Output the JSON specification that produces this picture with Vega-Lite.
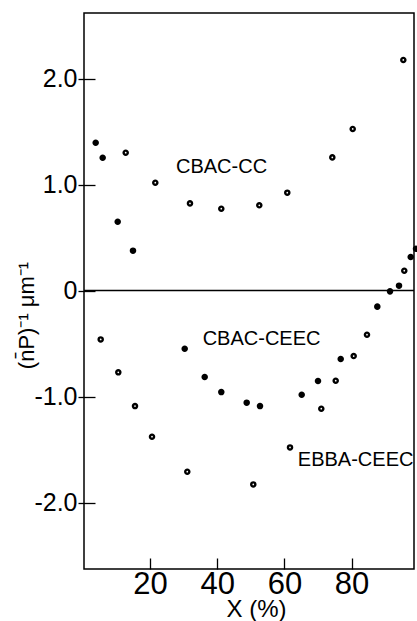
{
  "$schema": "https://vega.github.io/schema/vega-lite/v6.json",
  "width": 330,
  "height": 556,
  "autosize": "none",
  "padding": {"left": 84, "top": 13, "right": 3, "bottom": 52},
  "background": "white",
  "config": {
    "view": {"stroke": "black", "strokeWidth": 1.5},
    "font": "Liberation Sans",
    "axis": {"grid": false, "domain": false, "tickColor": "black", "tickWidth": 1.3, "labelColor": "black", "titleColor": "black", "titleFontWeight": "normal", "labelFont": "Liberation Sans", "titleFont": "Liberation Sans"}
  },
  "datasets": {
    "points": [
      {"x": 3.84, "y": 1.394, "series": "CBAC-CEEC"},
      {"x": 5.92, "y": 1.253, "series": "CBAC-CEEC"},
      {"x": 10.39, "y": 0.649, "series": "CBAC-CEEC"},
      {"x": 14.94, "y": 0.376, "series": "CBAC-CEEC"},
      {"x": 30.33, "y": -0.549, "series": "CBAC-CEEC"},
      {"x": 36.28, "y": -0.816, "series": "CBAC-CEEC"},
      {"x": 41.22, "y": -0.958, "series": "CBAC-CEEC"},
      {"x": 48.78, "y": -1.058, "series": "CBAC-CEEC"},
      {"x": 52.74, "y": -1.09, "series": "CBAC-CEEC"},
      {"x": 65.15, "y": -0.983, "series": "CBAC-CEEC"},
      {"x": 70.0, "y": -0.854, "series": "CBAC-CEEC"},
      {"x": 76.76, "y": -0.646, "series": "CBAC-CEEC"},
      {"x": 87.65, "y": -0.152, "series": "CBAC-CEEC"},
      {"x": 91.43, "y": -0.008, "series": "CBAC-CEEC"},
      {"x": 94.11, "y": 0.046, "series": "CBAC-CEEC"},
      {"x": 97.59, "y": 0.316, "series": "CBAC-CEEC"},
      {"x": 99.17, "y": 0.394, "series": "CBAC-CEEC"},
      {"x": 12.77, "y": 1.3, "series": "CBAC-CC"},
      {"x": 21.58, "y": 1.017, "series": "CBAC-CC"},
      {"x": 31.9, "y": 0.822, "series": "CBAC-CC"},
      {"x": 41.22, "y": 0.772, "series": "CBAC-CC"},
      {"x": 52.53, "y": 0.804, "series": "CBAC-CC"},
      {"x": 60.86, "y": 0.923, "series": "CBAC-CC"},
      {"x": 74.26, "y": 1.256, "series": "CBAC-CC"},
      {"x": 80.33, "y": 1.524, "series": "CBAC-CC"},
      {"x": 95.39, "y": 2.175, "series": "CBAC-CC"},
      {"x": 5.33, "y": -0.461, "series": "EBBA-CEEC"},
      {"x": 10.57, "y": -0.772, "series": "EBBA-CEEC"},
      {"x": 15.54, "y": -1.09, "series": "EBBA-CEEC"},
      {"x": 20.6, "y": -1.379, "series": "EBBA-CEEC"},
      {"x": 31.1, "y": -1.709, "series": "EBBA-CEEC"},
      {"x": 50.74, "y": -1.829, "series": "EBBA-CEEC"},
      {"x": 61.67, "y": -1.48, "series": "EBBA-CEEC"},
      {"x": 70.98, "y": -1.115, "series": "EBBA-CEEC"},
      {"x": 75.27, "y": -0.851, "series": "EBBA-CEEC"},
      {"x": 80.62, "y": -0.618, "series": "EBBA-CEEC"},
      {"x": 84.58, "y": -0.417, "series": "EBBA-CEEC"},
      {"x": 95.68, "y": 0.187, "series": "EBBA-CEEC"}
    ],
    "labels": [
      {"x": 41.3, "y": 1.165, "text": "CBAC-CC"},
      {"x": 53.2, "y": -0.453, "text": "CBAC-CEEC"},
      {"x": 81.2, "y": -1.599, "text": "EBBA-CEEC"}
    ]
  },
  "resolve": {"axis": {"x": "independent", "y": "independent"}},
  "layer": [
    {
      "data": {"name": "points"},
      "mark": {"type": "point", "shape": "circle", "filled": true, "stroke": "black", "strokeWidth": 2.4, "size": 17, "opacity": 1},
      "encoding": {
        "x": {
          "field": "x", "type": "quantitative",
          "scale": {"domain": [0.36, 98.57], "nice": false, "zero": false},
          "axis": {"orient": "bottom", "values": [20, 40, 60, 80], "ticks": false, "labelPadding": 0, "labelFontSize": 31, "title": "X (%)", "titleFontSize": 24, "titleX": 172, "titleY": 47, "titleBaseline": "alphabetic", "titleAlign": "center"}
        },
        "y": {
          "field": "y", "type": "quantitative",
          "scale": {"domain": [-2.627, 2.618], "nice": false, "zero": false},
          "axis": {"orient": "left", "values": [-2, -1, 0, 1, 2], "ticks": false, "labelPadding": 7, "labelFontSize": 25, "labelExpr": "datum.value == 0 ? '0' : replace(format(datum.value, '.1f'), '−', '-')", "title": "(n̄P)⁻¹ μm⁻¹", "titleFontSize": 22, "titleAngle": 270, "titleX": -51, "titleY": 302, "titleBaseline": "alphabetic", "titleAlign": "center"}
        },
        "fill": {"field": "series", "type": "nominal", "scale": {"domain": ["CBAC-CEEC", "CBAC-CC", "EBBA-CEEC"], "range": ["black", "white", "white"]}, "legend": null}
      }
    },
    {
      "data": {"name": "labels"},
      "mark": {"type": "text", "fontSize": 20, "align": "center", "baseline": "middle", "color": "black"},
      "encoding": {
        "x": {"field": "x", "type": "quantitative",
          "axis": {"orient": "bottom", "values": [20, 40, 60, 80], "offset": -11, "tickSize": 11, "labels": false, "title": null}},
        "y": {"field": "y", "type": "quantitative",
          "axis": {"orient": "left", "values": [-2, -1, 0, 1, 2], "offset": -11, "tickSize": 17, "labels": false, "title": null}},
        "text": {"field": "text"}
      }
    },
    {
      "data": {"values": [{"y": 0}]},
      "mark": {"type": "rule", "color": "black", "strokeWidth": 1.3},
      "encoding": {"y": {"field": "y", "type": "quantitative", "axis": null}}
    }
  ]
}
